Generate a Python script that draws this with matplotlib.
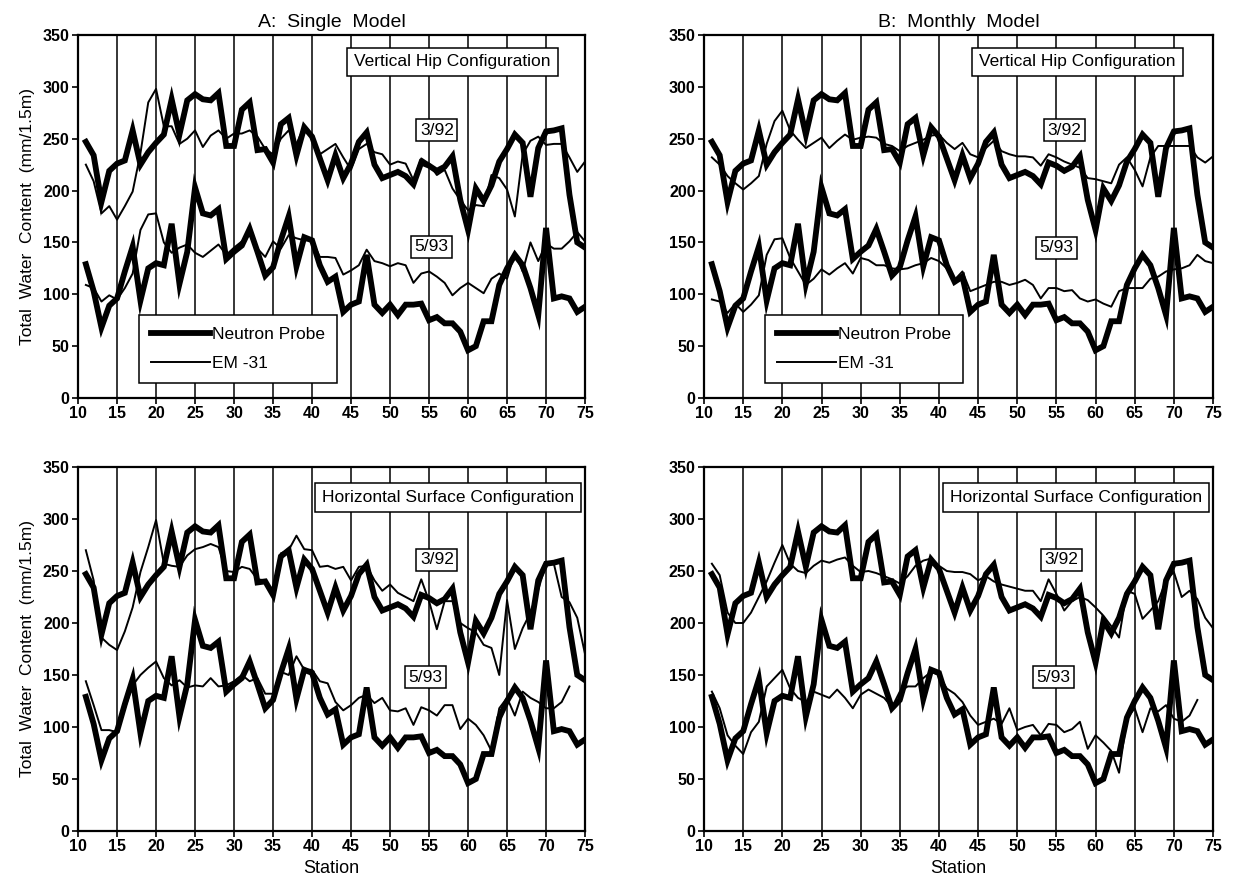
import numpy as np
import matplotlib
matplotlib.use('Agg')
import matplotlib.pyplot as plt

plt.rcParams['font.family'] = ['Liberation Sans', 'DejaVu Sans']

# stations 11..75
station = np.arange(11, 76)

# neutron probe (same in all panels)
np_392 = [247, 234, 189, 219, 226, 229, 258, 225, 237, 246,
          254, 288, 254, 287, 293, 288, 287, 294, 243, 243,
          278, 285, 239, 240, 227, 264, 270, 234, 261, 252,
          231, 210, 234, 212, 226, 247, 256, 225, 212, 215,
          218, 214, 206, 227, 224, 219, 223, 233, 191, 162,
          202, 190, 205, 228, 240, 254, 246, 194, 241, 257,
          258, 260, 196, 150, 145]
np_593 = [129, 103, 68, 89, 96, 122, 146, 94, 125, 130,
          128, 168, 110, 141, 203, 178, 176, 182, 134, 141,
          147, 163, 141, 118, 126, 152, 175, 127, 155, 152,
          128, 112, 117, 83, 90, 93, 138, 90, 82, 90,
          80, 90, 90, 91, 75, 78, 72, 72, 64, 46,
          50, 74, 74, 109, 125, 138, 128, 106, 80, 164,
          96, 98, 96, 83, 88]

# EM-31, A: single model, vertical hip
em_a_vert_392 = [225, 209, 178, 185, 172, 185, 199, 236, 285, 298,
                 262, 262, 245, 250, 258, 242, 253, 258, 250, 255,
                 255, 258, 252, 240, 235, 250, 258, 245, 262, 250,
                 235, 240, 245, 232, 220, 240, 245, 237, 235, 225,
                 228, 226, 210, 231, 226, 215, 220, 202, 191, 181,
                 186, 185, 215, 212, 201, 175, 235, 248, 252, 244,
                 245, 245, 232, 218, 228]
em_a_vert_593 = [109, 106, 93, 99, 95, 106, 120, 162, 177, 178,
                 150, 140, 145, 148, 140, 136, 142, 148, 138, 145,
                 151, 157, 144, 136, 151, 144, 157, 154, 152, 152,
                 136, 136, 135, 119, 123, 128, 143, 132, 130, 127,
                 130, 128, 111, 120, 122, 117, 111, 99, 106, 111,
                 106, 101, 115, 120, 115, 140, 122, 150, 132, 149,
                 144, 144, 151, 160, 151]

# EM-31, B: monthly model, vertical hip
em_b_vert_392 = [232, 225, 214, 207, 201, 207, 214, 245, 267, 277,
                 258, 249, 241, 246, 251, 241, 248, 254, 249, 251,
                 252, 251, 245, 243, 238, 243, 246, 249, 253, 254,
                 246, 240, 246, 235, 232, 241, 248, 238, 235, 233,
                 233, 232, 224, 235, 232, 228, 225, 222, 212, 211,
                 209, 207, 225, 232, 220, 204, 232, 243, 243, 243,
                 243, 243, 232, 227, 233]
em_b_vert_593 = [95, 93, 82, 91, 83, 90, 99, 138, 153, 154,
                 135, 122, 109, 115, 124, 119, 125, 130, 120, 135,
                 133, 128, 128, 125, 124, 125, 128, 130, 135, 132,
                 125, 114, 122, 103, 106, 109, 112, 112, 109, 111,
                 114, 109, 96, 106, 106, 103, 104, 96, 93, 95,
                 91, 88, 103, 106, 106, 106, 115, 117, 122, 124,
                 125, 128, 138, 132, 130]

# EM-31, A: single model, horizontal surface
em_a_hor_392 = [270, 241, 186, 179, 174, 192, 215, 249, 273, 299,
                257, 255, 254, 265, 271, 273, 276, 273, 250, 249,
                254, 252, 242, 241, 229, 267, 270, 284, 271, 270,
                254, 255, 252, 254, 241, 254, 255, 241, 231, 237,
                229, 225, 221, 242, 221, 194, 221, 221, 200, 195,
                191, 179, 176, 150, 222, 175, 195, 210, 232, 257,
                257, 225, 220, 205, 170]
em_a_hor_593 = [144, 121, 97, 97, 95, 118, 140, 150, 157, 163,
                147, 140, 145, 138, 140, 139, 147, 139, 140, 144,
                150, 144, 147, 132, 132, 153, 150, 168, 155, 155,
                144, 142, 124, 116, 121, 128, 131, 123, 128, 116,
                115, 118, 102, 119, 116, 111, 121, 121, 98, 108,
                102, 92, 77, 118, 128, 111, 134, 128, 124, 118,
                118, 124, 139]

# EM-31, B: monthly model, horizontal surface
em_b_hor_392 = [257, 246, 210, 200, 200, 210, 225, 240, 258, 275,
                257, 250, 248, 255, 260, 258, 261, 263, 255, 249,
                250, 248, 245, 242, 238, 245, 255, 260, 262, 255,
                250, 249, 249, 247, 241, 245, 240, 237, 235, 233,
                231, 231, 221, 242, 228, 212, 221, 225, 222, 215,
                207, 197, 186, 231, 228, 204, 212, 221, 241, 249,
                225, 231, 223, 205, 195]
em_b_hor_593 = [134, 118, 92, 82, 74, 95, 105, 139, 147, 155,
                137, 128, 124, 134, 131, 128, 136, 128, 118, 131,
                136, 132, 128, 119, 134, 139, 139, 147, 153, 150,
                137, 132, 124, 111, 102, 105, 108, 103, 118, 97,
                100, 102, 92, 103, 102, 95, 98, 105, 79, 92,
                85, 77, 56, 108, 118, 95, 118, 115, 121, 108,
                105, 111, 126]

panels = [
    ('A:  Single  Model', 'Vertical Hip Configuration', em_a_vert_392, em_a_vert_593,
     [0.0633, 0.5508, 0.4112, 0.4097], (58, 324), (56, 258), (55.3, 146)),
    ('B:  Monthly  Model', 'Vertical Hip Configuration', em_b_vert_392, em_b_vert_593,
     [0.5710, 0.5508, 0.4128, 0.4097], (57.7, 324), (56, 258), (55, 145)),
    (None, 'Horizontal Surface Configuration', em_a_hor_392, em_a_hor_593,
     [0.0633, 0.0621, 0.4112, 0.4108], (57.4, 321), (56, 261), (54.5, 148)),
    (None, 'Horizontal Surface Configuration', em_b_hor_392, em_b_hor_593,
     [0.5710, 0.0621, 0.4128, 0.4108], (57.5, 321), (55.6, 261), (54.6, 148)),
]

fig = plt.figure(figsize=(12.33, 8.86), dpi=100)

for i, (title, config, em392, em593, rect, cpos, p392, p593) in enumerate(panels):
    ax = fig.add_axes(rect)
    for xv in range(15, 75, 5):
        ax.axvline(xv, color='black', lw=1.1, zorder=1)
    ax.plot(station, np_392, color='black', lw=4.2, solid_joinstyle='miter', zorder=3,
            label='Neutron Probe')
    ax.plot(station, np_593, color='black', lw=4.2, solid_joinstyle='miter', zorder=3)
    ax.plot(station[:len(em392)], em392, color='black', lw=1.4, zorder=4, label='EM -31')
    ax.plot(station[:len(em593)], em593, color='black', lw=1.4, zorder=4)

    ax.set_xlim(10, 75)
    ax.set_ylim(0, 350)
    ax.set_xticks(range(10, 80, 5))
    ax.set_yticks(range(0, 400, 50))
    ax.tick_params(direction='out', length=4, width=1.2, labelsize=11.5, pad=2)
    for lab in ax.get_xticklabels() + ax.get_yticklabels():
        lab.set_fontweight('bold')
    for sp in ax.spines.values():
        sp.set_linewidth(1.6)

    ax.text(cpos[0], cpos[1], config, ha='center', va='center', fontsize=12.5, zorder=6,
            bbox=dict(boxstyle='square,pad=0.4', fc='white', ec='black', lw=1.1))
    ax.text(p392[0], p392[1], '3/92', ha='center', va='center', fontsize=12.5, zorder=6,
            bbox=dict(boxstyle='square,pad=0.2', fc='white', ec='black', lw=1.1))
    ax.text(p593[0], p593[1], '5/93', ha='center', va='center', fontsize=12.5, zorder=6,
            bbox=dict(boxstyle='square,pad=0.2', fc='white', ec='black', lw=1.1))

    if title:
        ax.set_title(title, fontsize=14, pad=6)
        leg = ax.legend(loc='lower left', bbox_to_anchor=(0.12, 0.04), borderaxespad=0,
                        fancybox=False, edgecolor='black', framealpha=1, fontsize=12.5,
                        handlelength=3.4, handletextpad=0.1, borderpad=0.7,
                        labelspacing=0.8)
        leg.get_frame().set_linewidth(1.1)
        leg.set_zorder(7)
    else:
        ax.set_xlabel('Station', fontsize=13, labelpad=4)
    if i % 2 == 0:
        ax.set_ylabel('Total  Water  Content  (mm/1.5m)', fontsize=12.5, labelpad=6)

fig.savefig('out.png', dpi=100)
